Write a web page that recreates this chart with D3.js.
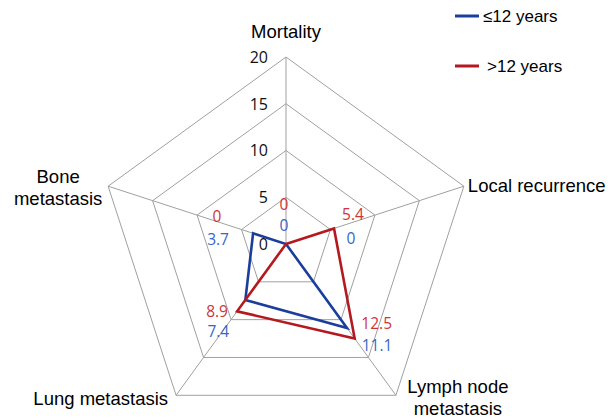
<!DOCTYPE html>
<html>
<head>
<meta charset="utf-8">
<script src="https://cdn.jsdelivr.net/npm/d3@7"></script>
<style>
  body { margin: 0; background: #fff; }
  svg { display: block; }
</style>
</head>
<body>
<svg id="chart" width="616" height="418"></svg>
<script>
// data
const categories = ["Mortality", "Local recurrence", "Lymph node metastasis", "Lung metastasis", "Bone metastasis"];
const seriesNames = ["\u226412 years", ">12 years"];
const youngValues = [0, 0, 11.1, 7.4, 3.7];
const oldValues = [0, 5.4, 12.5, 8.9, 0];
const tickValues = [0, 5, 10, 15, 20];

// init setting
const svg = d3.select("#chart");
const cx = 286, cy = 244, R = 187;
const colors = { young: "#1b3e9c", old: "#b3191e" };
const labelColors = { young: "#3467c9", old: "#d0343a" };

const r = d3.scaleLinear().domain([0, 20]).range([0, R]);
const angle = i => (-90 + 72 * i) * Math.PI / 180;
const pt = (i, v) => [cx + r(v) * Math.cos(angle(i)), cy + r(v) * Math.sin(angle(i))];

// grid rings
svg.selectAll(".ring")
    .data(tickValues.slice(1))
    .enter().append("polygon")
    .attr("class", "ring")
    .attr("points", v => categories.map((c, i) => pt(i, v).join(",")).join(" "))
    .attr("fill", "none")
    .attr("stroke", "#a0a0a0")
    .attr("stroke-width", 1);

// spokes
svg.selectAll(".spoke")
    .data(categories)
    .enter().append("line")
    .attr("class", "spoke")
    .attr("x1", cx).attr("y1", cy)
    .attr("x2", (d, i) => pt(i, 20)[0])
    .attr("y2", (d, i) => pt(i, 20)[1])
    .attr("stroke", "#a0a0a0")
    .attr("stroke-width", 1);

// tick labels
svg.selectAll(".tick")
    .data(tickValues)
    .enter().append("text")
    .attr("class", "tick")
    .attr("x", cx - 18)
    .attr("y", v => cy - r(v))
    .attr("dy", "0.36em")
    .attr("text-anchor", "end")
    .style("font-family", "'Open Sans', sans-serif")
    .style("font-size", "16px")
    .attr("fill", "#111")
    .text(v => v);

// category labels (offset from outer vertex, one entry per line)
const catLayout = [
    { anchor: "middle", dx: 0, dy: -19, lines: ["Mortality"] },
    { anchor: "start", dx: 4, dy: 6, lines: ["Local recurrence"] },
    { anchor: "middle", dx: 62, dy: -2, lines: ["Lymph node", "metastasis"] },
    { anchor: "end", dx: -8, dy: 10, lines: ["Lung metastasis"] },
    { anchor: "middle", dx: -50, dy: -3, lines: ["Bone", "metastasis"] }
];
categories.forEach((c, i) => {
    const [x, y] = pt(i, 20);
    const L = catLayout[i];
    const t = svg.append("text")
        .attr("x", x + L.dx)
        .attr("y", y + L.dy)
        .attr("text-anchor", L.anchor)
        .style("font-family", "'Liberation Sans', Arial, sans-serif")
        .style("font-size", "18.5px")
        .attr("fill", "#000");
    L.lines.forEach((line, k) => {
        t.append("tspan")
            .attr("x", x + L.dx)
            .attr("dy", k === 0 ? 0 : 22)
            .text(line);
    });
});

// series lines
const series = [
    { key: "young", values: youngValues },
    { key: "old", values: oldValues }
];
const line = d3.line().curve(d3.curveLinearClosed);
svg.selectAll(".series")
    .data(series)
    .enter().append("path")
    .attr("class", "series")
    .attr("d", s => line(s.values.map((v, i) => pt(i, v))))
    .attr("fill", "none")
    .attr("stroke", s => colors[s.key])
    .attr("stroke-width", 2.6)
    .attr("stroke-linejoin", "miter");

// data labels, offsets from each data point
const labelOffsets = {
    young: [[-2, -19], [65, -6], [30, 17], [-27, 31], [-35, 6]],
    old: [[-2, -40], [19, -14], [22, -15], [-20, 0], [-69, -28]]
};
series.forEach(s => {
    svg.selectAll(".lbl-" + s.key)
        .data(s.values)
        .enter().append("text")
        .attr("class", "lbl-" + s.key)
        .attr("x", (v, i) => pt(i, v)[0] + labelOffsets[s.key][i][0])
        .attr("y", (v, i) => pt(i, v)[1] + labelOffsets[s.key][i][1])
        .attr("dy", "0.36em")
        .attr("text-anchor", "middle")
        .style("font-family", "'Open Sans', sans-serif")
        .style("font-size", "15.5px")
        .attr("fill", labelColors[s.key])
        .text(v => v);
});

// legend
const legend = svg.selectAll(".legend")
    .data(series)
    .enter().append("g")
    .attr("class", "legend")
    .attr("transform", (d, i) => `translate(455, ${16 + i * 50})`);
legend.append("line")
    .attr("x1", 0).attr("x2", 24)
    .attr("stroke", d => colors[d.key])
    .attr("stroke-width", 3);
legend.append("text")
    .attr("x", (d, i) => i === 0 ? 28 : 32)
    .attr("y", 6)
    .style("font-family", "'Liberation Sans', Arial, sans-serif")
    .style("font-size", "17px")
    .attr("fill", "#000")
    .text((d, i) => seriesNames[i]);
</script>
</body>
</html>
